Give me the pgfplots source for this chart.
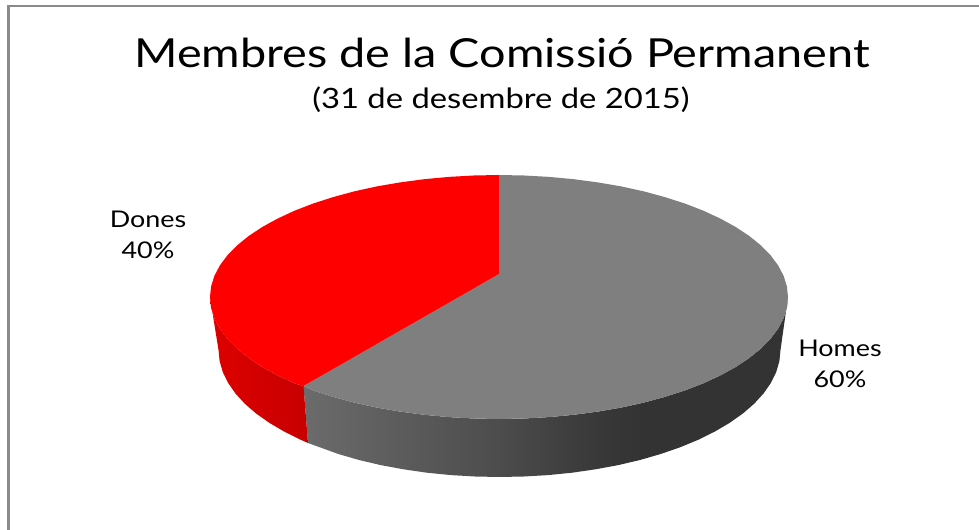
\documentclass[border=0pt]{standalone}
\usepackage{pgfplots}
\pgfplotsset{compat=1.18}
\usepackage{fontspec}
\setmainfont[FakeStretch=1.17]{Lato}
\definecolor{framegray}{HTML}{8A8A8A}
\definecolor{topgray}{HTML}{7F7F7F}
\pgfdeclarehorizontalshading{sidegrayb}{100bp}{rgb(0bp)=(0.42,0.42,0.42); rgb(25bp)=(0.42,0.42,0.42); rgb(45bp)=(0.30,0.30,0.30); rgb(55.6bp)=(0.22,0.22,0.22); rgb(60bp)=(0.2,0.2,0.2); rgb(100bp)=(0.2,0.2,0.2)}
\pgfdeclarehorizontalshading{sidered}{100bp}{rgb(0bp)=(0.87,0,0); rgb(25bp)=(0.87,0,0); rgb(75bp)=(0.78,0,0); rgb(100bp)=(0.78,0,0)}

\begin{document}
\begin{tikzpicture}
\begin{axis}[scale only axis,width=979bp,height=530bp,
  xmin=0,xmax=979,ymin=0,ymax=530,y dir=reverse,hide axis]
% keep the whole page, hide axis does not count it
\path (axis cs:0,0) rectangle (axis cs:979,530);
% frame, left and top only
\addplot[framegray,line width=2.4bp] coordinates {(8.5,530)(8.5,6)(979,6)};
% side walls
\addplot[draw=none,shading=sidegrayb] coordinates {
 (788,297)(786.9,307.6)(783.6,318.2)(778.1,328.6)(770.6,338.7)(760.9,348.6)(749.3,358)(735.7,367)
 (720.4,375.4)(703.4,383.3)(684.8,390.5)(664.8,396.9)(643.5,402.7)(621.1,407.6)(597.8,411.6)
 (573.8,414.8)(549.2,417.1)(524.2,418.5)(499,419)(473.8,418.5)(448.8,417.1)(424.2,414.8)
 (400.2,411.6)(376.9,407.6)(354.5,402.7)(333.2,396.9)(313.2,390.5)(303.5,386)
 (308,443)(338.3,454)(359,460)(380.7,465.1)(403.4,469.3)(426.8,472.7)(450.7,475.1)(475,476.5)
 (499.5,477)(524,476.5)(548.3,475.1)(572.2,472.7)(595.6,469.3)(618.3,465.1)(640,460)(660.7,454)
 (680.1,447.3)(698.2,439.8)(714.8,431.6)(729.7,422.8)(742.9,413.5)(754.2,403.7)(763.6,393.4)
 (770.9,382.9)(776.2,372.1)(779.4,361.1)(780.5,350)} -- cycle;
\addplot[draw=none,shading=sidered] coordinates {
 (303.5,386)(294.6,383.3)(277.6,375.4)(262.3,367)(248.7,358)(237.1,348.6)(227.4,338.7)(219.9,328.6)
 (214.4,318.2)(211.1,307.6)(210,297)(218.5,350)(219.6,361.1)(222.8,372.1)(228.1,382.9)(235.4,393.4)
 (244.8,403.7)(256.1,413.5)(269.3,422.8)(284.2,431.6)(300.8,439.8)(308,443)} -- cycle;
% top faces
\addplot[draw=none,fill=topgray] coordinates {
 (499,274)(499,175)(524.2,175.5)(549.2,176.9)(573.8,179.2)(597.8,182.4)(621.1,186.4)(643.5,191.3)
 (664.8,197.1)(684.8,203.5)(703.4,210.7)(720.4,218.6)(735.7,227)(749.3,236)(760.9,245.4)(770.6,255.3)
 (778.1,265.4)(783.6,275.8)(786.9,286.4)(788,297)(786.9,307.6)(783.6,318.2)(778.1,328.6)(770.6,338.7)
 (760.9,348.6)(749.3,358)(735.7,367)(720.4,375.4)(703.4,383.3)(684.8,390.5)(664.8,396.9)(643.5,402.7)
 (621.1,407.6)(597.8,411.6)(573.8,414.8)(549.2,417.1)(524.2,418.5)(499,419)(473.8,418.5)(448.8,417.1)
 (424.2,414.8)(400.2,411.6)(376.9,407.6)(354.5,402.7)(333.2,396.9)(313.2,390.5)(303.5,386)} -- cycle;
\addplot[draw=none,fill=red] coordinates {
 (499,274)(303.5,386)(294.6,383.3)(277.6,375.4)(262.3,367)(248.7,358)(237.1,348.6)(227.4,338.7)
 (219.9,328.6)(214.4,318.2)(211.1,307.6)(210,297)(211.1,286.4)(214.4,275.8)(219.9,265.4)(227.4,255.3)
 (237.1,245.4)(248.7,236)(262.3,227)(277.6,218.6)(294.6,210.7)(313.2,203.5)(333.2,197.1)(354.5,191.3)
 (376.9,186.4)(400.2,182.4)(424.2,179.2)(448.8,176.9)(473.8,175.5)(499,175)} -- cycle;
% text
\node[font=\fontsize{40bp}{44bp}\selectfont] at (axis cs:502,53) {Membres de la Comissió Permanent};
\node[font=\fontsize{28bp}{32bp}\selectfont] at (axis cs:501,100) {(31 de desembre de 2015)};
\node[font=\fontsize{23bp}{31bp}\selectfont,align=center] at (axis cs:148,235) {Dones\\40\%};
\node[font=\fontsize{23bp}{31bp}\selectfont,align=center] at (axis cs:840,364) {Homes\\60\%};
\end{axis}
\end{tikzpicture}
\end{document}
